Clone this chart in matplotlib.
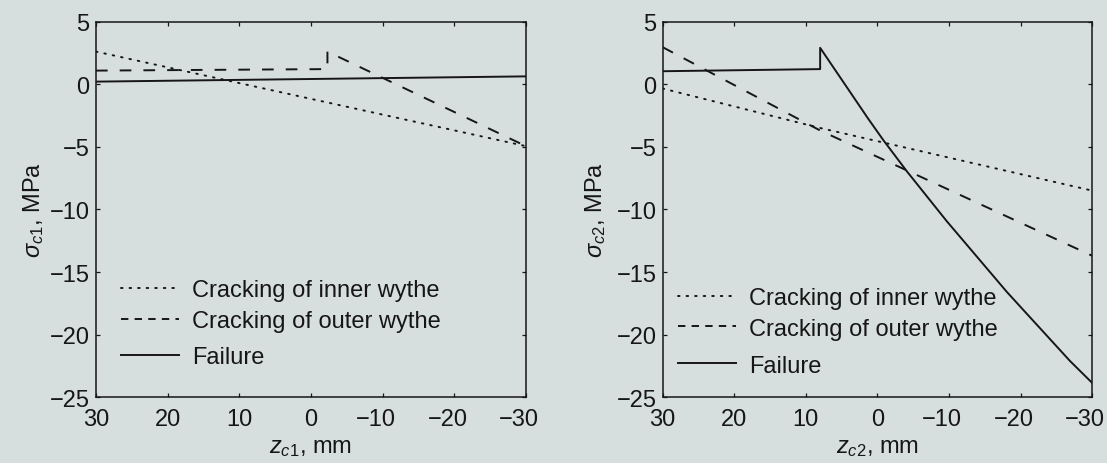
import matplotlib.pyplot as plt
from matplotlib.transforms import ScaledTranslation

plt.rcParams['font.family'] = ['Liberation Sans', 'DejaVu Sans']
plt.rcParams['mathtext.fontset'] = 'custom'
plt.rcParams['mathtext.rm'] = 'Liberation Sans'
plt.rcParams['mathtext.it'] = 'Liberation Sans:italic'

BG = '#d7dfde'
INK = '#161616'
FS = 17

# Stress in concrete at the level of the first connector, z_c1 (mm) vs sigma_c1 (MPa)
inner1_z = [30, -30]
inner1_s = [2.6, -4.95]
outer1_z = [30, -2.3, -2.3, -30]
outer1_s = [1.08, 1.2, 2.6, -4.95]
fail1_z = [30, -30]
fail1_s = [0.2, 0.62]

# Second connector, z_c2 (mm) vs sigma_c2 (MPa)
inner2_z = [30, 8, -30]
inner2_s = [-0.35, -3.5, -8.5]
outer2_z = [30, 8, -30]
outer2_s = [2.95, -3.7, -13.7]
fail2_z = [30, 8, 8, 1.3, -0.8, -4.1, -9.7, -18.1, -26.9, -30]
fail2_s = [1.03, 1.2, 2.9, -2.75, -4.45, -6.95, -10.95, -16.6, -22.1, -23.85]

labels = ['Cracking of inner wythe', 'Cracking of outer wythe', 'Failure']
xticks = [30, 20, 10, 0, -10, -20, -30]
yticks = [5, 0, -5, -10, -15, -20, -25]

LW = 1.4
DOT = (0, (0.8, 3.6))
DASH = (0, (6, 6.2))

fig = plt.figure(figsize=(11.07, 4.64), dpi=100, facecolor=BG)
ax1 = fig.add_axes([0.0867, 0.1416, 0.3884, 0.8099])
ax2 = fig.add_axes([0.5986, 0.1416, 0.3880, 0.8099])


def style(ax, sub):
    ax.set_facecolor(BG)
    ax.set_xlim(30, -30)
    ax.set_ylim(-25, 5)
    ax.set_xticks(xticks)
    ax.set_yticks(yticks)
    ax.tick_params(direction='in', length=3, width=0.9, top=True, right=True,
                   labelsize=FS, colors=INK, pad=4.5)
    ax.tick_params(axis='x', pad=7.5)
    for sp in ax.spines.values():
        sp.set_linewidth(1.1)
        sp.set_color(INK)
    ax.set_xlabel(r'$z_{c%d}$, mm' % sub, fontsize=FS, color=INK)
    ax.set_ylabel(r'$\sigma_{c%d}$, MPa' % sub, fontsize=FS, color=INK)
    ax.xaxis.set_label_coords(0.5, -0.102)


style(ax1, 1)
style(ax2, 2)
ax1.yaxis.set_label_coords(-0.117, 0.5)
ax2.yaxis.set_label_coords(-0.127, 0.5)

ax1.plot(inner1_z, inner1_s, color=INK, lw=LW, linestyle=DOT, dash_capstyle='round')
ax1.plot(outer1_z, outer1_s, color=INK, lw=LW, linestyle=DASH)
ax1.plot(fail1_z, fail1_s, color=INK, lw=LW, linestyle='-')

ax2.plot(inner2_z, inner2_s, color=INK, lw=LW, linestyle=DOT, dash_capstyle='round')
ax2.plot(outer2_z, outer2_s, color=INK, lw=LW, linestyle=DASH)
ax2.plot(fail2_z, fail2_s, color=INK, lw=LW, linestyle='-')

leg_kw = dict(loc='center left', frameon=False, fontsize=FS, handlelength=2.45,
              handletextpad=0.55, labelspacing=0.36, borderpad=0,
              borderaxespad=0, labelcolor=INK)

# two cracking entries together, failure entry set a bit lower
for ax, x0, y_top, y_bot in ((ax1, 0.058, 0.2437, 0.1064),
                             (ax2, 0.0354, 0.2235, 0.0841)):
    lines = ax.get_lines()
    leg1 = ax.legend(lines[:2], labels[:2], bbox_to_anchor=(x0, y_top), **leg_kw)
    leg1.get_lines()[1].set_linestyle((0, (3.8, 3.2)))
    ax.add_artist(leg1)
    ax.legend(lines[2:], labels[2:], bbox_to_anchor=(x0, y_bot), **leg_kw)

# negative tick labels: keep the digits centred on the tick
fig.canvas.draw()
for ax in (ax1, ax2):
    for tick in ax.xaxis.get_major_ticks():
        lbl = tick.label1
        if lbl.get_text().startswith('\u2212'):
            lbl.set_transform(lbl.get_transform()
                              + ScaledTranslation(-0.292 * FS / 72, 0, fig.dpi_scale_trans))

fig.savefig('out.png', dpi=100, facecolor=BG)
